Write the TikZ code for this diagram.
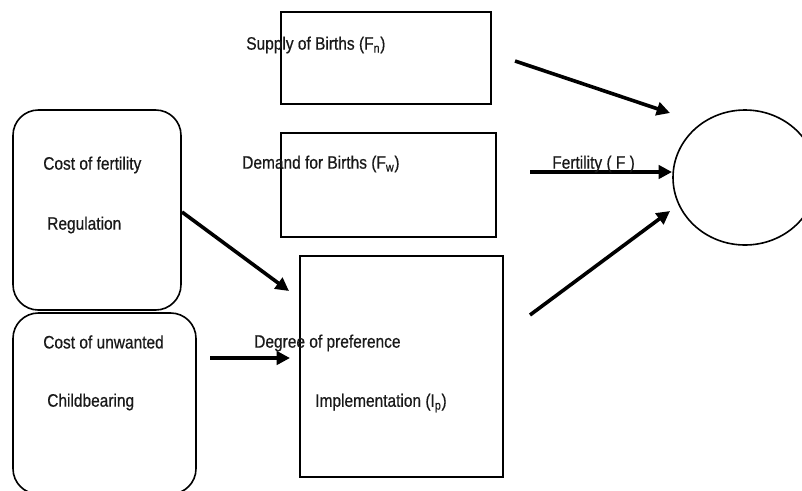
\documentclass[tikz,border=0pt]{standalone}
\usepackage{fontspec}
\setmainfont{Liberation Sans}[FakeStretch=0.86,FakeBold=0.6]
\usetikzlibrary{arrows.meta,shapes.geometric}
\tikzset{
  box/.style={draw=black,line width=1.2pt,inner sep=0pt,outer sep=0pt},
  rbox/.style={box,rounded corners=19pt},
  lbl/.style={anchor=west,inner sep=0pt,text=black!90,font=\fontsize{13.5}{16}\selectfont},
  arr/.style={line width=2.7pt,-{Triangle[length=10pt,width=10pt]}}
}
\begin{document}
\begin{tikzpicture}[x=0.75pt,y=-0.75pt]
\useasboundingbox (0,0) rectangle (802,490);
% boxes
\node[box,minimum width=157.5pt,minimum height=69pt] (supply) at (386,58) {};
\node[box,minimum width=161.25pt,minimum height=78pt] (demand) at (388.5,185) {};
\node[box,minimum width=152.25pt,minimum height=165.75pt] (impl) at (401.5,366.5) {};
\node[rbox,rectangle,minimum width=126pt,minimum height=150pt] (costfert) at (97,210) {};
\node[rbox,rectangle,minimum width=137.25pt,minimum height=135.75pt] (costunw) at (104.5,403.5) {};
\node[box,ellipse,minimum width=108pt,minimum height=101.25pt] (fert) at (745,177.5) {};
% arrow end points
\coordinate (a1s) at (515,61);
\coordinate (a1e) at (670,113);
\coordinate (a2s) at (530,172);
\coordinate (a2e) at (672,172);
\coordinate (a3s) at (530,315);
\coordinate (a3e) at (670,211);
\coordinate (a4s) at (182,212);
\coordinate (a4e) at (289,291);
\coordinate (a5s) at (210,358);
\coordinate (a5e) at (290,358);
% arrows
\draw[arr] (a1s) -- (a1e);
\draw[arr] (a2s) -- (a2e);
\draw[arr] (a3s) -- (a3e);
\draw[arr] (a4s) -- (a4e);
\draw[arr] (a5s) -- (a5e);
% labels
\node[lbl] (tsupply) at (246,45) {Supply of Births (F\textsubscript{n})};
\node[lbl] (tdemand) at (242,164) {Demand for Births (F\textsubscript{w})};
\node[lbl] (tfert) at (552,164) {Fertility ( F )};
\node[lbl] (tcf1) at (43,165) {Cost of fertility};
\node[lbl] (tcf2) at (47,225) {Regulation};
\node[lbl] (tcu1) at (43,342) {Cost of unwanted};
\node[lbl] (tcu2) at (47,402) {Childbearing};
\node[lbl] (tdeg) at (254,343) {Degree of preference};
\node[lbl] (timpl) at (315,403) {Implementation (I\textsubscript{p})};
\end{tikzpicture}
\end{document}
